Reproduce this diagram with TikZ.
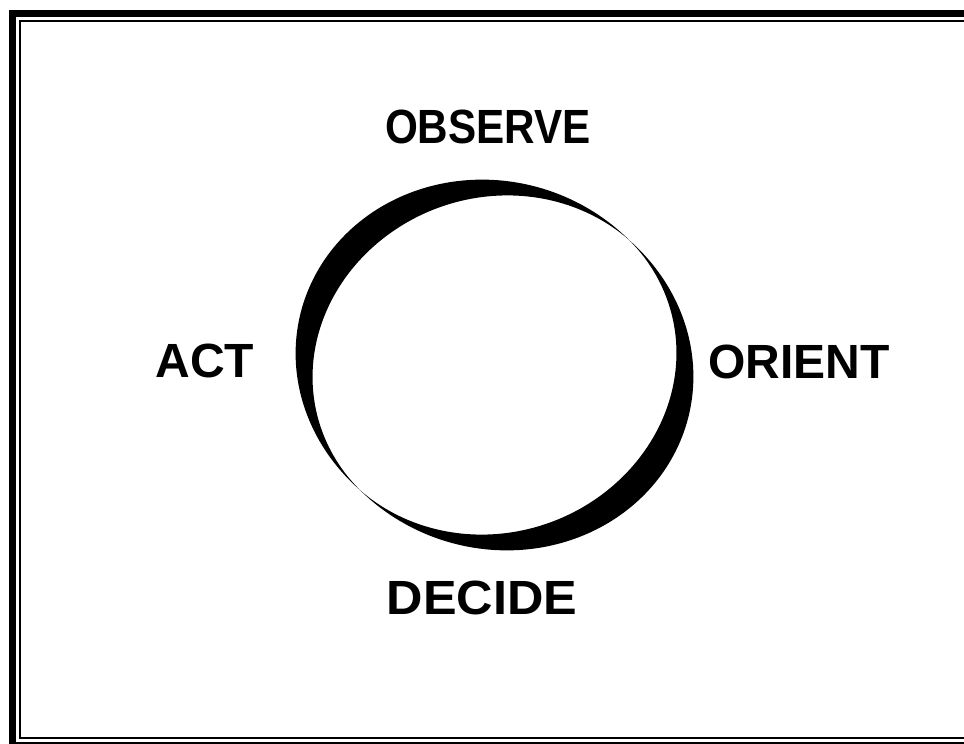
\documentclass[tikz,border=0pt]{standalone}
\usepackage{fontspec}
\setmainfont{Liberation Sans}
\begin{document}
\begin{tikzpicture}[x=1pt,y=-1pt,
  lbl/.style={font=\fontsize{48}{48}\selectfont\bfseries, inner sep=0pt, anchor=base},
  thickframe/.style={line width=7pt},
  thinframe/.style={line width=2pt}]
\useasboundingbox (0,0) rectangle (964,744);
\clip (0,0) rectangle (964,744);
\fill[white] (0,0) rectangle (964,744);
% double frame (right side cut off in the reference)
\draw[thickframe] (12.5,13.5) rectangle (976,745.5);
\draw[thinframe] (20,20.5) rectangle (968,738);
% ring: tapered band, thin at NE and SW, thick at NW and SE
\fill[black, even odd rule]
  plot[domain=0:360, samples=361, variable=\t]
    ({494.5 + (190 + 0.5*(12*abs(sin(\t-45)) + 17*sin(\t-45)*sin(\t-45)))*cos(\t)},
     {365 - 0.932*(190 + 0.5*(12*abs(sin(\t-45)) + 17*sin(\t-45)*sin(\t-45)))*sin(\t)}) -- cycle
  plot[domain=0:360, samples=361, variable=\t]
    ({494.5 + (190 - 0.5*(12*abs(sin(\t-45)) + 17*sin(\t-45)*sin(\t-45)))*cos(\t)},
     {365 - 0.932*(190 - 0.5*(12*abs(sin(\t-45)) + 17*sin(\t-45)*sin(\t-45)))*sin(\t)}) -- cycle;
% labels
\node[lbl, xscale=0.88] (obs) at (488,143) {OBSERVE};
\node[lbl] (ori) at (799,378) {ORIENT};
\node[lbl, xscale=1.05] (dec) at (482,614) {DECIDE};
\node[lbl] (act) at (205,377) {ACT};
\end{tikzpicture}
\end{document}
